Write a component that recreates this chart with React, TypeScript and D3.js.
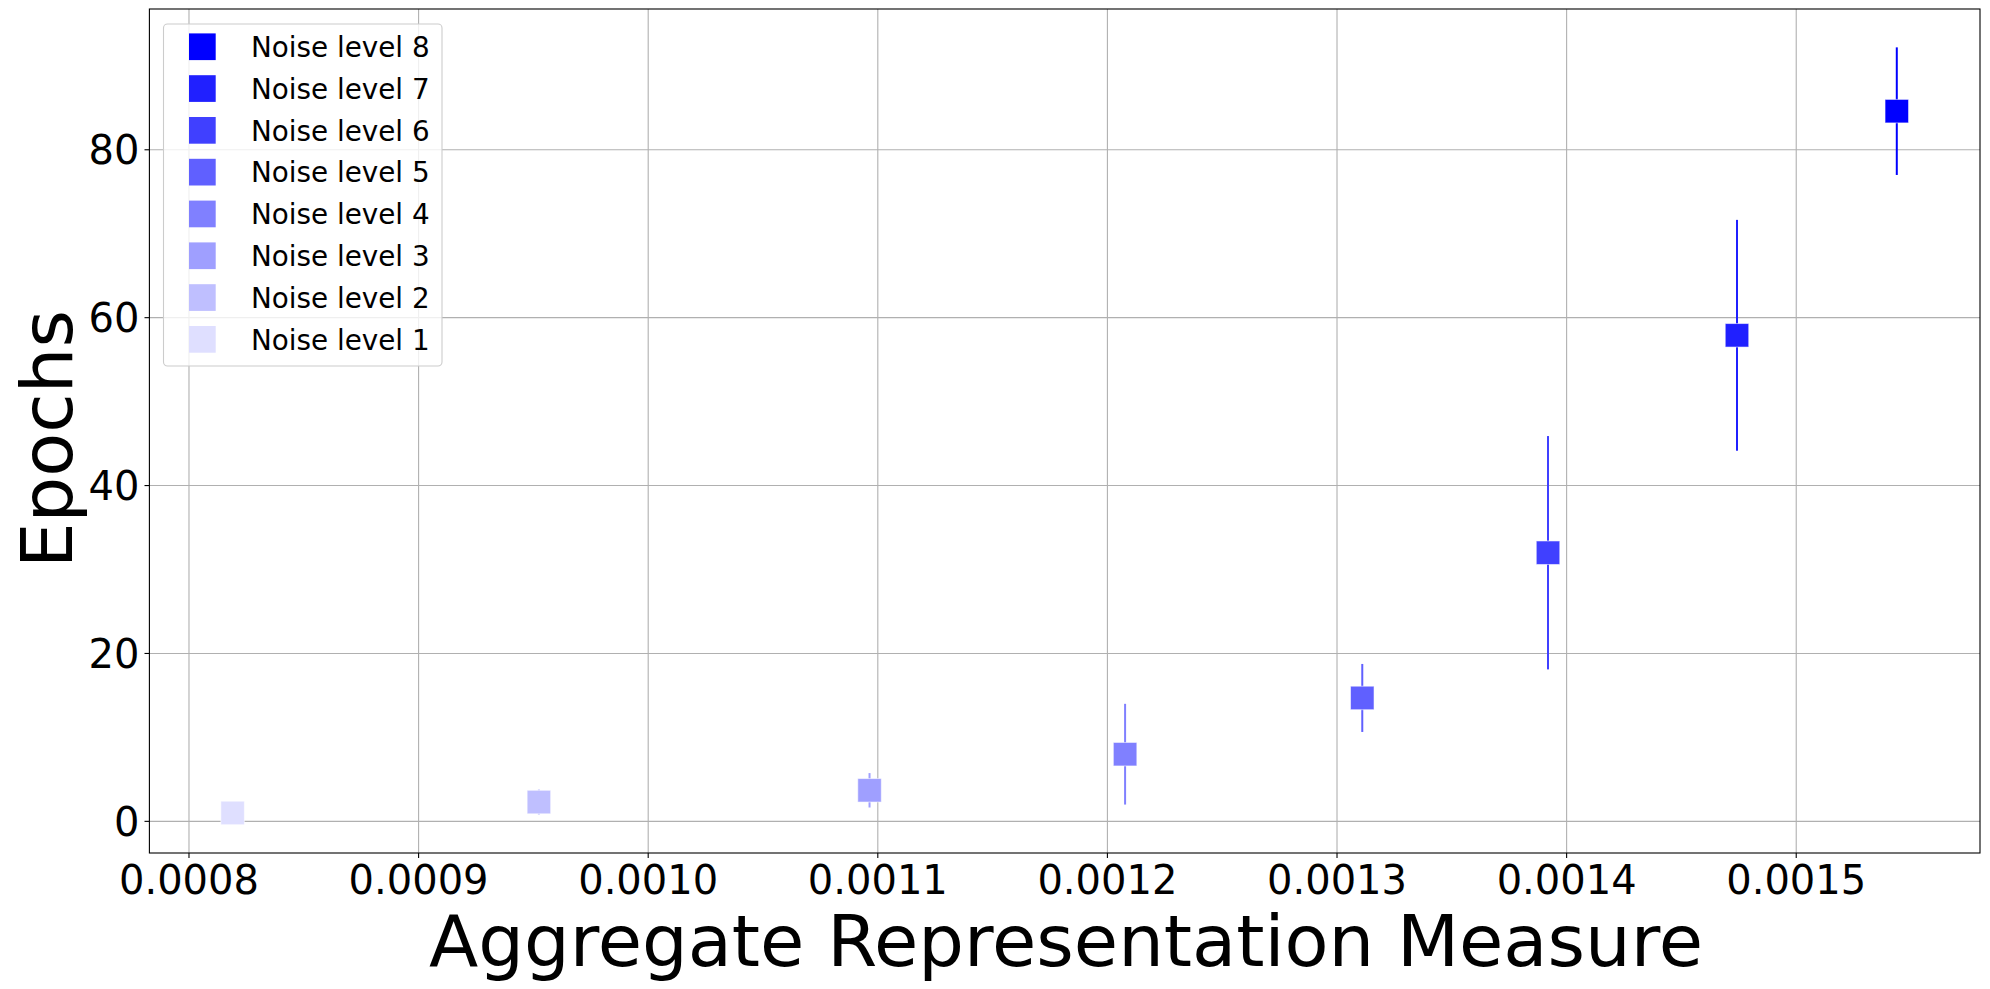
import React from "react";
import * as d3 from "d3";

const noiseLevels = [1, 2, 3, 4, 5, 6, 7, 8];
const measureX = [0.000819, 0.0009524, 0.0010964, 0.0012077, 0.001311, 0.0013919, 0.0014742, 0.0015438];
const epochsMean = [1.0, 2.3, 3.7, 8.0, 14.7, 32.0, 57.9, 84.6];
const epochsErr = [0.15, 1.5, 2.05, 6.0, 4.05, 13.9, 13.75, 7.6];
const levelColors = ["#dfdfff", "#bfbfff", "#9f9fff", "#8080ff", "#6060ff", "#4040ff", "#2020ff", "#0000ff"];
const xTicks = [0.0008, 0.0009, 0.001, 0.0011, 0.0012, 0.0013, 0.0014, 0.0015];
const yTicks = [0, 20, 40, 60, 80];
const xLabel = "Aggregate Representation Measure";
const yLabel = "Epochs";

const W = 1990;
const H = 989;
const left = 149.4;
const right = 1980;
const top = 9;
const bottom = 853;
const font = "'DejaVu Sans', sans-serif";

export default function App() {
  const xExt = d3.extent(measureX) as [number, number];
  const xPad = (xExt[1] - xExt[0]) * 0.05;
  const x = d3.scaleLinear().domain([xExt[0] - xPad, xExt[1] + xPad]).range([left, right]);

  const lows = epochsMean.map((m, i) => m - epochsErr[i]);
  const highs = epochsMean.map((m, i) => m + epochsErr[i]);
  const yMin = d3.min(lows) as number;
  const yMax = d3.max(highs) as number;
  const yPad = (yMax - yMin) * 0.05;
  const y = d3.scaleLinear().domain([yMin - yPad, yMax + yPad]).range([bottom, top]);

  const ms = 23.5;
  const legendRowH = 41.8;
  const legendItems = [...noiseLevels].reverse();

  return (
    <svg width={W} height={H} style={{ position: "absolute", left: 0, top: 0, background: "#fff" }}>
      <rect x={0} y={0} width={W} height={H} fill="#fff" />
      {/* grid */}
      <g stroke="#b0b0b0" strokeWidth={1.1}>
        {xTicks.map((t) => (
          <line key={"gx" + t} x1={x(t)} x2={x(t)} y1={top} y2={bottom} />
        ))}
        {yTicks.map((t) => (
          <line key={"gy" + t} x1={left} x2={right} y1={y(t)} y2={y(t)} />
        ))}
      </g>
      {/* error bars and markers */}
      {noiseLevels.map((lv, i) => (
        <g key={"p" + lv}>
          <line
            x1={x(measureX[i])}
            x2={x(measureX[i])}
            y1={y(lows[i])}
            y2={y(highs[i])}
            stroke={levelColors[i]}
            strokeWidth={2}
          />
          <rect
            x={x(measureX[i]) - ms / 2}
            y={y(epochsMean[i]) - ms / 2}
            width={ms}
            height={ms}
            fill={levelColors[i]}
            stroke="rgba(255,255,255,0.55)"
            strokeWidth={1}
          />
        </g>
      ))}
      {/* spines */}
      <rect x={left} y={top} width={right - left} height={bottom - top} fill="none" stroke="#000" strokeWidth={1.1} />
      {/* x ticks */}
      {xTicks.map((t) => (
        <g key={"xt" + t}>
          <line x1={x(t)} x2={x(t)} y1={bottom} y2={bottom + 4.9} stroke="#000" strokeWidth={1.1} />
          <text x={x(t)} y={894} textAnchor="middle" fontFamily={font} fontSize={40} fill="#000">
            {d3.format(".4f")(t)}
          </text>
        </g>
      ))}
      {/* y ticks */}
      {yTicks.map((t) => (
        <g key={"yt" + t}>
          <line x1={left - 4.9} x2={left} y1={y(t)} y2={y(t)} stroke="#000" strokeWidth={1.1} />
          <text x={139.5} y={y(t) + 14.6} textAnchor="end" fontFamily={font} fontSize={40} fill="#000">
            {t}
          </text>
        </g>
      ))}
      {/* axis labels */}
      <text x={1066} y={966} textAnchor="middle" fontFamily={font} fontSize={72} fill="#000">
        {xLabel}
      </text>
      <text
        transform={`translate(71.5, 439) rotate(-90)`}
        textAnchor="middle"
        fontFamily={font}
        fontSize={72}
        fill="#000"
      >
        {yLabel}
      </text>
      {/* legend */}
      <rect x={163.5} y={24} width={278.5} height={342} rx={4} ry={4} fill="rgba(255,255,255,0.8)" stroke="#cccccc" strokeWidth={1.1} />
      {legendItems.map((lv, j) => {
        const i = noiseLevels.indexOf(lv);
        const cy = 46.7 + j * legendRowH;
        return (
          <g key={"lg" + lv}>
            <rect x={189} y={cy - 13.3} width={26.7} height={26.7} fill={levelColors[i]} />
            <text x={251} y={cy + 10.2} fontFamily={font} fontSize={27.8} fill="#000">
              {`Noise level ${lv}`}
            </text>
          </g>
        );
      })}
    </svg>
  );
}
